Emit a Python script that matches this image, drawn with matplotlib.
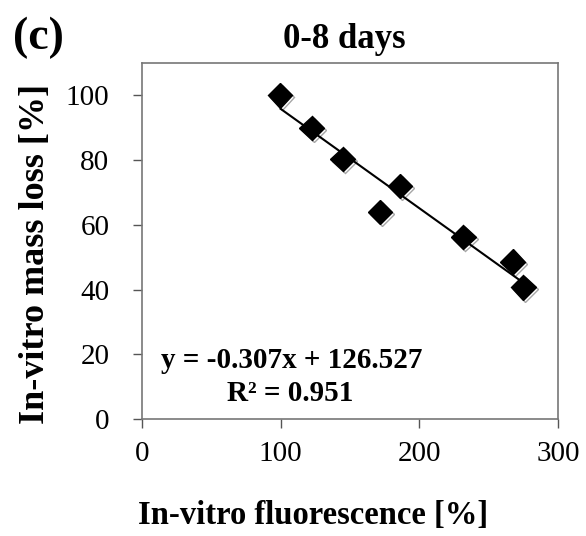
import numpy as np
import matplotlib
matplotlib.use("Agg")
import matplotlib.pyplot as plt
import matplotlib.patheffects as pe

plt.rcParams["font.family"] = ["Liberation Serif", "DejaVu Serif"]

# data
fluor = [99.5, 122.4, 144.7, 171.6, 186.0, 231.7, 267.3, 275.0]
mass_loss = [100.0, 89.9, 80.3, 64.0, 72.0, 56.2, 48.6, 40.7]
slope, intercept = -0.307, 126.527
fit_x = [100, 275]

W, H = 586, 536
fig = plt.figure(figsize=(W / 100, H / 100), dpi=100)
ax = fig.add_axes([142/W, 1 - 419/H, 416/W, (419 - 63)/H])

fx = np.array(fit_x)
ax.plot(fx, slope * fx + intercept, color="black", lw=1.5, zorder=2)
ax.plot(fluor, mass_loss, ls="none", marker="D", ms=12.5, color="black",
        zorder=3,
        path_effects=[pe.SimpleLineShadow(offset=(1.5, -1.5), alpha=0.35),
                      pe.Normal()])

ax.set_xlim(0, 300)
ax.set_ylim(0, 110)
ax.set_xticks([0, 100, 200, 300])
ax.set_yticks([0, 20, 40, 60, 80, 100])
ax.tick_params(direction="out", length=6.5, width=1, labelsize=21,
               color="#555555")
ax.tick_params(axis="x", pad=9)
ax.tick_params(axis="y", pad=17)
for s in ax.spines.values():
    s.set_color("#777777")
    s.set_linewidth(1.2)

ax.text(0.36, 0.165, "y = -0.307x + 126.527", transform=ax.transAxes,
        ha="center", va="center", fontsize=21, fontweight="bold")
ax.text(0.356, 0.072, "R² = 0.951", transform=ax.transAxes,
        ha="center", va="center", fontsize=21, fontweight="bold")

fig.text(313/W, 1 - 516/H, "In-vitro fluorescence [%]", fontsize=23.5,
         fontweight="bold", ha="center", va="center")
fig.text(36/W, 1 - 254/H, "In-vitro mass loss [%]", fontsize=26,
         fontweight="bold", ha="center", va="center", rotation=90)
fig.text(344/W, 1 - 40/H, "0-8 days", fontsize=25, fontweight="bold",
         ha="center", va="center")
fig.text(13/W, 1 - 38/H, "(c)", fontsize=33, fontweight="bold",
         ha="left", va="center")

plt.savefig("out.png", dpi=100, facecolor="white")
